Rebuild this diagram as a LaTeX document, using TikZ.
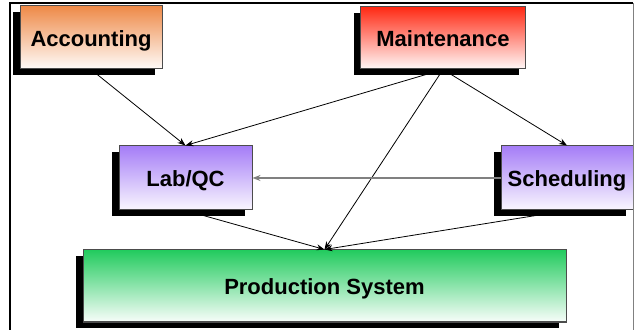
\documentclass[tikz,border=0pt]{standalone}
\usepackage{fontspec}
\setmainfont{Liberation Sans}
\usetikzlibrary{arrows.meta,shadows}
\definecolor{accorange}{HTML}{EE8A48}
\definecolor{mntred}{HTML}{FF2A14}
\definecolor{labpurple}{HTML}{A57DF7}
\definecolor{prodgreen}{HTML}{22CB5E}

\begin{document}
\begin{tikzpicture}[x=0.5pt,y=-0.5pt,
  unit/.style={rectangle,draw=gray!60!black,line width=0.5pt,inner sep=0pt,
               text height=8.9pt,text depth=0pt,
               font=\fontsize{11}{13}\selectfont\bfseries,
               drop shadow={shadow xshift=-3.3pt,shadow yshift=-3.2pt,
                            fill=black,opacity=1}},
  link/.style={-{Stealth[length=4pt,width=3pt]},line width=0.4pt}
]
\useasboundingbox (0,0) rectangle (635,330);

% ---- Frame --------------------------------------------------
\draw[line width=1.2pt] (10,331) -- (10,3) -- (633,3);

% ---- Top row ------------------------------------------------
\node[unit,minimum width=71pt,minimum height=31.5pt,
      top color=accorange,bottom color=accorange!3] (acc) at (91,37.5) {Accounting};
\node[unit,minimum width=82.5pt,minimum height=31pt,
      top color=mntred,bottom color=mntred!3] (mnt) at (443,38) {Maintenance};

% ---- Middle row ---------------------------------------------
\node[unit,minimum width=66.5pt,minimum height=32pt,
      top color=labpurple,bottom color=labpurple!6] (lab) at (185.5,178) {Lab/QC};
\node[unit,minimum width=66pt,minimum height=32pt,
      top color=labpurple,bottom color=labpurple!6] (sch) at (567,178) {Scheduling};

% ---- Bottom row ---------------------------------------------
\node[unit,minimum width=241.5pt,minimum height=36pt,
      top color=prodgreen,bottom color=prodgreen!3] (prod) at (324.5,286) {Production System};

% Connectors
\draw[link] (acc.south) -- (lab.north);
\draw[link] (mnt.south) -- (lab.north);
\draw[link] (mnt.south) -- (sch.north);
\draw[link] (mnt.south) -- (prod.north);
\draw[link,gray,line width=0.7pt] (sch.west) -- (lab.east);
\draw[link] (lab.south) -- (prod.north);
\draw[link] (sch.south) -- (prod.north);

\draw[gray,line width=0.5pt] (633,3) -- (633,331);

\end{tikzpicture}
\end{document}
